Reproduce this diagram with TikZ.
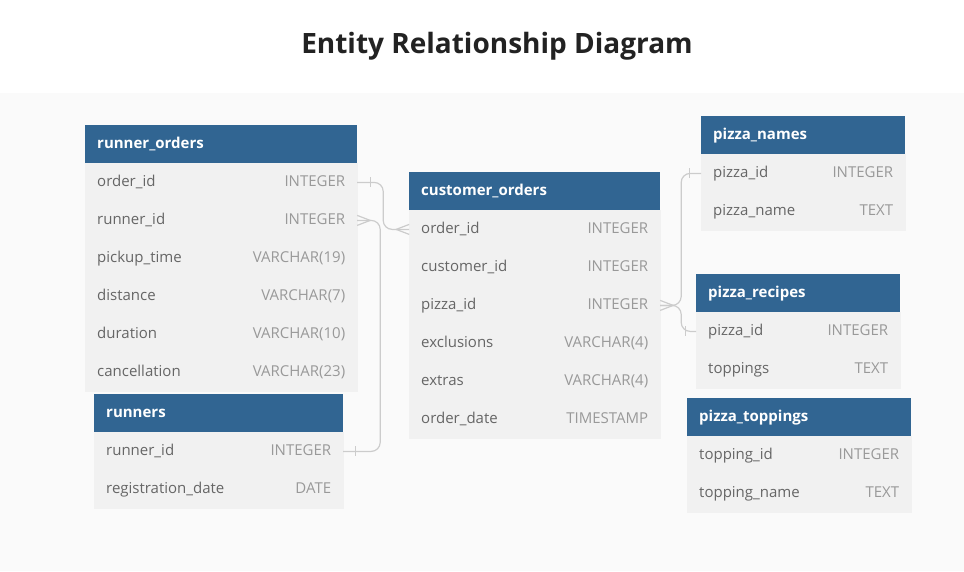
\documentclass[tikz,border=0pt]{standalone}
\usepackage{fontspec}
\setmainfont{Open Sans}
\usetikzlibrary{positioning}

\definecolor{headblue}{RGB}{49,101,146}
\definecolor{rowgray}{RGB}{241,241,241}
\definecolor{bandgray}{RGB}{250,250,250}
\definecolor{namegray}{RGB}{102,102,102}
\definecolor{typegray}{RGB}{153,153,153}
\definecolor{linkgray}{RGB}{204,204,204}
\definecolor{titleblack}{RGB}{34,34,34}

\newcommand{\colrow}[2]{#1\hfill\textcolor{typegray}{#2}}

\tikzset{
    tblhead/.style={rectangle, fill=headblue, text=white, text width=#1,
        font=\fontsize{15}{17}\selectfont\bfseries, align=left,
        inner xsep=12pt, inner ysep=0pt, minimum height=38pt},
    tblrow/.style={rectangle, fill=rowgray, draw=rowgray, line width=0.6pt,
        text=namegray, text width=#1,
        font=\fontsize{15}{17}\selectfont, align=left,
        inner xsep=11.7pt, inner ysep=0pt, minimum height=37.4pt},
    link/.style={draw=linkgray, line width=1.2pt},
    onebar/.pic={\draw[link] (0,-5) -- (0,5);},
    crowfoot/.pic={\draw[link] (0,-5) -- (13,0) -- (0,5);},
}

\begin{document}
\begin{tikzpicture}[x=1pt, y=-1pt]
    \useasboundingbox (0,0) rectangle (964,571);
    \fill[white] (0,0) rectangle (964,93);
    \fill[bandgray] (0,93) rectangle (964,571);

    \node[text=titleblack, font=\fontsize{28}{32}\selectfont\bfseries] (title) at (497,46) {Entity Relationship Diagram};

    % runner_orders
    \node[tblhead=248pt, anchor=north west] (ro-h) at (85,125) {runner\_orders};
    \node[tblrow=248pt, below=0pt of ro-h] (ro-1) {\colrow{order\_id}{INTEGER}};
    \node[tblrow=248pt, below=0pt of ro-1] (ro-2) {\colrow{runner\_id}{INTEGER}};
    \node[tblrow=248pt, below=0pt of ro-2] (ro-3) {\colrow{pickup\_time}{VARCHAR(19)}};
    \node[tblrow=248pt, below=0pt of ro-3] (ro-4) {\colrow{distance}{VARCHAR(7)}};
    \node[tblrow=248pt, below=0pt of ro-4] (ro-5) {\colrow{duration}{VARCHAR(10)}};
    \node[tblrow=248pt, below=0pt of ro-5] (ro-6) {\colrow{cancellation}{VARCHAR(23)}};

    % runners
    \node[tblhead=225pt, anchor=north west] (ru-h) at (94,394) {runners};
    \node[tblrow=225pt, below=0pt of ru-h] (ru-1) {\colrow{runner\_id}{INTEGER}};
    \node[tblrow=225pt, below=0pt of ru-1] (ru-2) {\colrow{registration\_date}{DATE}};

    % customer_orders
    \node[tblhead=227pt, anchor=north west] (co-h) at (409,172) {customer\_orders};
    \node[tblrow=227pt, below=0pt of co-h] (co-1) {\colrow{order\_id}{INTEGER}};
    \node[tblrow=227pt, below=0pt of co-1] (co-2) {\colrow{customer\_id}{INTEGER}};
    \node[tblrow=227pt, below=0pt of co-2] (co-3) {\colrow{pizza\_id}{INTEGER}};
    \node[tblrow=227pt, below=0pt of co-3] (co-4) {\colrow{exclusions}{VARCHAR(4)}};
    \node[tblrow=227pt, below=0pt of co-4] (co-5) {\colrow{extras}{VARCHAR(4)}};
    \node[tblrow=227pt, below=0pt of co-5] (co-6) {\colrow{order\_date}{TIMESTAMP}};

    % pizza_names
    \node[tblhead=180pt, anchor=north west] (pn-h) at (701,116) {pizza\_names};
    \node[tblrow=180pt, below=0pt of pn-h] (pn-1) {\colrow{pizza\_id}{INTEGER}};
    \node[tblrow=180pt, below=0pt of pn-1] (pn-2) {\colrow{pizza\_name}{TEXT}};

    % pizza_recipes
    \node[tblhead=180pt, anchor=north west] (pr-h) at (696,274) {pizza\_recipes};
    \node[tblrow=180pt, below=0pt of pr-h] (pr-1) {\colrow{pizza\_id}{INTEGER}};
    \node[tblrow=180pt, below=0pt of pr-1] (pr-2) {\colrow{toppings}{TEXT}};

    % pizza_toppings
    \node[tblhead=200pt, anchor=north west] (pt-h) at (687,398) {pizza\_toppings};
    \node[tblrow=200pt, below=0pt of pt-h] (pt-1) {\colrow{topping\_id}{INTEGER}};
    \node[tblrow=200pt, below=0pt of pt-1] (pt-2) {\colrow{topping\_name}{TEXT}};

    % relations
    \draw[link, rounded corners=9pt] (ro-1.east) -- ++(26,0) |- (co-1.west);
    \pic[xshift=13pt] at (ro-1.east) {onebar};
    \pic[xscale=-1] at (co-1.west) {crowfoot};

    \draw[link, rounded corners=9pt] (ro-2.east) -- ++(23,0) |- (ru-1.east);
    \pic at (ro-2.east) {crowfoot};
    \pic[xshift=12pt] at (ru-1.east) {onebar};

    \draw[link, rounded corners=9pt] (co-3.east) -- ++(21,0) |- (pn-1.west);
    \draw[link, rounded corners=9pt] (co-3.east) -- ++(21,0) |- (pr-1.west);
    \pic at (co-3.east) {crowfoot};
    \pic[xshift=-12pt] at (pn-1.west) {onebar};
    \pic[xshift=-11pt] at (pr-1.west) {onebar};
\end{tikzpicture}
\end{document}
